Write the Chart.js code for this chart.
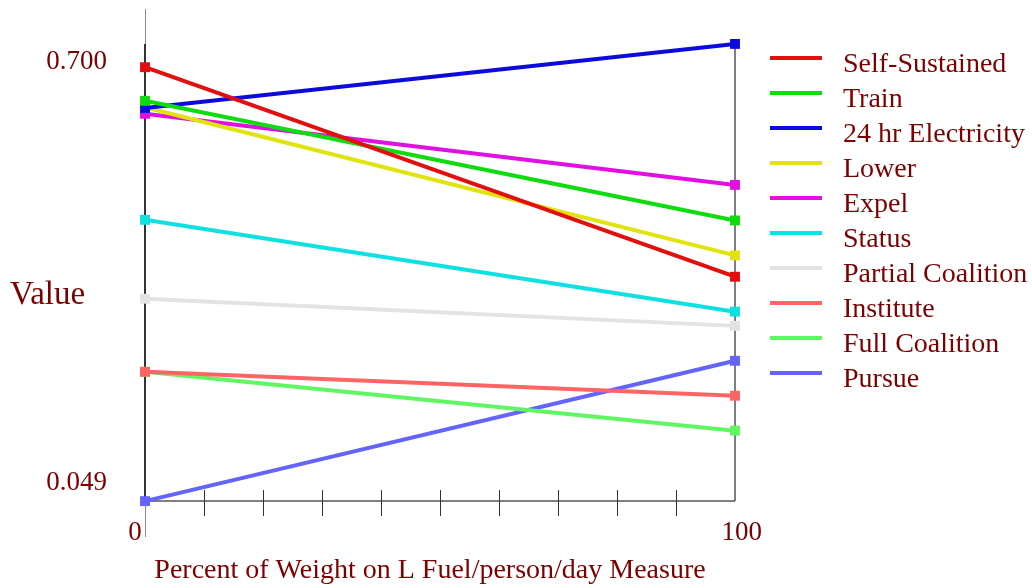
<!DOCTYPE html>
<html>
<head>
<meta charset="utf-8">
<script src="https://cdn.jsdelivr.net/npm/chart.js@4.4.1/dist/chart.umd.min.js"></script>
<style>
  html, body { margin: 0; padding: 0; background: #fff; }
  #wrap { width: 1032px; height: 588px; position: relative; }
</style>
</head>
<body>
<div id="wrap"><canvas id="chart" width="1032" height="588"></canvas></div>
<script>
// ── Data ─────────────────────────────────────────────────────────────────────

const xValues = [0, 100];
const seriesNames = ['Self-Sustained', 'Train', '24 hr Electricity', 'Lower', 'Expel',
  'Status', 'Partial Coalition', 'Institute', 'Full Coalition', 'Pursue'];
const seriesColors = ['#e30e0e', '#0fdc0f', '#0b0bdc', '#e2e20c', '#e10fe1',
  '#0fe0e0', '#e3e3e3', '#ff6464', '#62f562', '#6464fa'];
const startValues = [0.692, 0.640, 0.629, 0.630, 0.620, 0.456, 0.334, 0.221, 0.221, 0.021];
const endValues   = [0.368, 0.455, 0.728, 0.401, 0.510, 0.314, 0.292, 0.184, 0.130, 0.238];
const yTickValues = [0.049, 0.700];
const xTickLabels = { 0: '0   ', 100: '  100' };

const SERIF = "'Liberation Serif', 'Times New Roman', serif";
const TEXT = '#7d0000';

// ── Extra drawing: axes, titles, legend ──────────────────────────────────────

const framePlugin = {
  id: 'frame',
  beforeDatasetsDraw(chart) {
    const { ctx, chartArea: a, scales: { x, y } } = chart;
    const top = y.getPixelForValue(0.728);
    ctx.save();
    ctx.lineCap = 'butt';
    // thin left line running past the plot
    ctx.strokeStyle = '#8a8a8a';
    ctx.lineWidth = 1;
    ctx.beginPath(); ctx.moveTo(a.left + 0.5, a.top); ctx.lineTo(a.left + 0.5, 537); ctx.stroke();
    // frame
    ctx.strokeStyle = '#333';
    ctx.lineWidth = 2;
    ctx.beginPath(); ctx.moveTo(a.left, top); ctx.lineTo(a.left, a.bottom); ctx.stroke();
    ctx.strokeStyle = '#555';
    ctx.lineWidth = 1.5;
    ctx.beginPath(); ctx.moveTo(a.right, top); ctx.lineTo(a.right, a.bottom); ctx.stroke();
    ctx.beginPath(); ctx.moveTo(a.left, a.bottom); ctx.lineTo(a.right, a.bottom); ctx.stroke();
    // ticks crossing the bottom axis
    ctx.strokeStyle = '#333';
    ctx.lineWidth = 1;
    x.ticks.forEach(t => {
      if (t.value === 0 || t.value === 100) return;
      const px = Math.round(x.getPixelForValue(t.value)) + 0.5;
      ctx.beginPath(); ctx.moveTo(px, a.bottom - 11); ctx.lineTo(px, a.bottom + 15); ctx.stroke();
    });
    ctx.restore();
  },
  afterDraw(chart) {
    const { ctx } = chart;
    ctx.save();
    ctx.fillStyle = TEXT;
    ctx.textBaseline = 'alphabetic';
    ctx.font = '33px ' + SERIF;
    ctx.textAlign = 'left';
    ctx.fillText('Value', 10, 304);
    ctx.font = '28px ' + SERIF;
    ctx.textAlign = 'center';
    ctx.fillText('Percent of Weight on L Fuel/person/day Measure', 430, 578);
    // legend
    ctx.textAlign = 'left';
    seriesNames.forEach((name, i) => {
      const cy = 58 + i * 35;
      ctx.fillStyle = seriesColors[i];
      ctx.fillRect(770, cy - 2, 52, 4);
      ctx.fillStyle = TEXT;
      ctx.fillText(name, 843, cy + 14);
    });
    ctx.restore();
  }
};

// ── Chart ────────────────────────────────────────────────────────────────────

const datasets = seriesNames.map((name, i) => ({
  label: name,
  data: xValues.map((xv, j) => ({ x: xv, y: j === 0 ? startValues[i] : endValues[i] })),
  borderColor: seriesColors[i],
  backgroundColor: seriesColors[i],
  borderWidth: 4,
  pointStyle: 'rect',
  pointRadius: 7,
  pointBorderWidth: 0,
  tension: 0,
  clip: false
}));

new Chart(document.getElementById('chart').getContext('2d'), {
  type: 'line',
  data: { datasets },
  options: {
    responsive: false,
    animation: false,
    layout: { autoPadding: false, padding: { top: 9, right: 297, left: 0, bottom: 0 } },
    plugins: { legend: { display: false }, tooltip: { enabled: false } },
    scales: {
      x: {
        type: 'linear',
        min: 0,
        max: 100,
        border: { display: false },
        grid: { display: false, drawTicks: false },
        ticks: {
          stepSize: 10,
          padding: 16,
          maxRotation: 0,
          autoSkip: false,
          color: TEXT,
          font: { family: SERIF, size: 27 },
          callback: v => xTickLabels[v] ?? ''
        },
        afterFit: s => { s.height = 87; s.paddingLeft = 0; s.paddingRight = 0; }
      },
      y: {
        type: 'linear',
        min: 0.0212,
        max: 0.782,
        border: { display: false },
        grid: { display: false, drawTicks: false },
        afterBuildTicks: s => { s.ticks = yTickValues.map(v => ({ value: v })); },
        ticks: {
          padding: 38,
          color: TEXT,
          font: { family: SERIF, size: 27 },
          callback: v => v.toFixed(3)
        },
        afterFit: s => { s.width = 145; s.paddingTop = 0; s.paddingBottom = 0; }
      }
    }
  },
  plugins: [framePlugin]
});
</script>
</body>
</html>
